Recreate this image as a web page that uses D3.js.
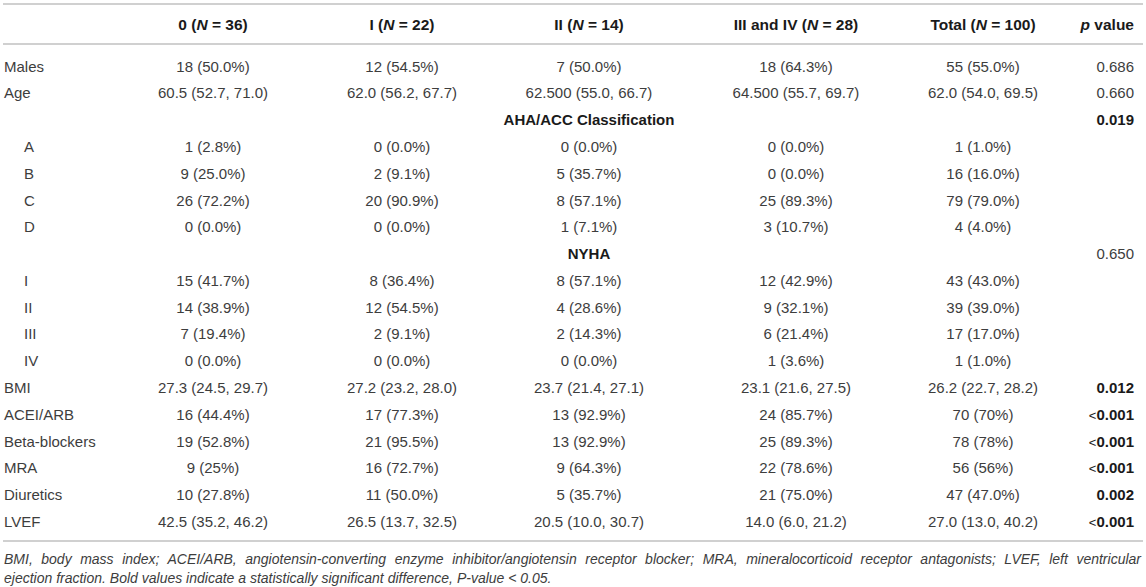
<!DOCTYPE html>
<html>
<head>
<meta charset="utf-8">
<script src="https://cdn.jsdelivr.net/npm/d3@7"></script>
<style>
  body { margin: 0; background: #fff; }
  svg { display: block; font-family: "Liberation Sans", Arial, sans-serif; }
</style>
</head>
<body>
<svg id="table" width="1146" height="587"></svg>
<script>
// column groups (Stage) and their N
const groups = ["0", "I", "II", "III and IV", "Total"];
const groupN = [36, 22, 14, 28, 100];

// row labels; "section" rows are the centred bold sub headings
const rowLabels = ["Males", "Age", "AHA/ACC Classification", "A", "B", "C", "D",
    "NYHA", "I", "II", "III", "IV", "BMI", "ACEI/ARB", "Beta-blockers", "MRA",
    "Diuretics", "LVEF"];
const rowKind = ["row", "row", "section", "sub", "sub", "sub", "sub",
    "section", "sub", "sub", "sub", "sub", "row", "row", "row", "row", "row", "row"];

const stage0 = ["18 (50.0%)", "60.5 (52.7, 71.0)", "", "1 (2.8%)", "9 (25.0%)", "26 (72.2%)", "0 (0.0%)",
    "", "15 (41.7%)", "14 (38.9%)", "7 (19.4%)", "0 (0.0%)", "27.3 (24.5, 29.7)", "16 (44.4%)",
    "19 (52.8%)", "9 (25%)", "10 (27.8%)", "42.5 (35.2, 46.2)"];
const stageI = ["12 (54.5%)", "62.0 (56.2, 67.7)", "", "0 (0.0%)", "2 (9.1%)", "20 (90.9%)", "0 (0.0%)",
    "", "8 (36.4%)", "12 (54.5%)", "2 (9.1%)", "0 (0.0%)", "27.2 (23.2, 28.0)", "17 (77.3%)",
    "21 (95.5%)", "16 (72.7%)", "11 (50.0%)", "26.5 (13.7, 32.5)"];
const stageII = ["7 (50.0%)", "62.500 (55.0, 66.7)", "", "0 (0.0%)", "5 (35.7%)", "8 (57.1%)", "1 (7.1%)",
    "", "8 (57.1%)", "4 (28.6%)", "2 (14.3%)", "0 (0.0%)", "23.7 (21.4, 27.1)", "13 (92.9%)",
    "13 (92.9%)", "9 (64.3%)", "5 (35.7%)", "20.5 (10.0, 30.7)"];
const stageIIIIV = ["18 (64.3%)", "64.500 (55.7, 69.7)", "", "0 (0.0%)", "0 (0.0%)", "25 (89.3%)", "3 (10.7%)",
    "", "12 (42.9%)", "9 (32.1%)", "6 (21.4%)", "1 (3.6%)", "23.1 (21.6, 27.5)", "24 (85.7%)",
    "25 (89.3%)", "22 (78.6%)", "21 (75.0%)", "14.0 (6.0, 21.2)"];
const total = ["55 (55.0%)", "62.0 (54.0, 69.5)", "", "1 (1.0%)", "16 (16.0%)", "79 (79.0%)", "4 (4.0%)",
    "", "43 (43.0%)", "39 (39.0%)", "17 (17.0%)", "1 (1.0%)", "26.2 (22.7, 28.2)", "70 (70%)",
    "78 (78%)", "56 (56%)", "47 (47.0%)", "27.0 (13.0, 40.2)"];

const pValues = ["0.686", "0.660", "0.019", "", "", "", "", "0.650", "", "", "", "",
    "0.012", "<0.001", "<0.001", "<0.001", "0.002", "<0.001"];
const pBold = [false, false, true, false, false, false, false, false, false, false, false, false,
    true, true, true, true, true, true];

const footnote = [
    "BMI, body mass index; ACEI/ARB, angiotensin-converting enzyme inhibitor/angiotensin receptor blocker; MRA, mineralocorticoid receptor antagonists; LVEF, left ventricular",
    "ejection fraction. Bold values indicate a statistically significant difference, P-value < 0.05."
];

const columns = [stage0, stageI, stageII, stageIIIIV, total];

const svg = d3.select("#table");
const left = 3, right = 1143;

const x = d3.scaleOrdinal()
    .domain(groups)
    .range([213, 402, 589, 796, 983]);
const pX = 1134;

const y = d3.scaleBand()
    .domain(d3.range(rowLabels.length))
    .range([53, 535]);

const textCol = "#3d3d3d";
const boldCol = "#1a1a1a";
const lineCol = "#c0c0c0";

// rules
svg.selectAll("line.rule")
    .data([4, 44, 541])
    .enter()
    .append("line")
    .attr("class", "rule")
    .attr("x1", left).attr("x2", right)
    .attr("y1", d => d).attr("y2", d => d)
    .attr("stroke", lineCol)
    .attr("stroke-width", 1.6);

// header
const head = svg.append("g").attr("font-weight", "bold").attr("font-size", 15.5).attr("fill", boldCol);
groups.forEach((g, i) => {
    const t = head.append("text")
        .attr("x", x(g)).attr("y", 25)
        .attr("dy", "0.35em")
        .attr("text-anchor", "middle");
    t.append("tspan").text(g + " (");
    t.append("tspan").attr("font-style", "italic").text("N");
    t.append("tspan").text(" = " + groupN[i] + ")");
});
const ph = head.append("text")
    .attr("x", pX).attr("y", 25).attr("dy", "0.35em")
    .attr("text-anchor", "end");
ph.append("tspan").attr("font-style", "italic").text("p");
ph.append("tspan").text(" value");

// body
const rowY = i => y(i) + y.bandwidth() / 2;
const body = svg.append("g").attr("font-size", 15).attr("fill", textCol);

body.selectAll("text.label")
    .data(rowLabels)
    .enter()
    .append("text")
    .attr("class", "label")
    .attr("x", (d, i) => rowKind[i] === "section" ? x("II") : (rowKind[i] === "sub" ? 24 : 4))
    .attr("y", (d, i) => rowY(i))
    .attr("dy", "0.35em")
    .attr("text-anchor", (d, i) => rowKind[i] === "section" ? "middle" : "start")
    .attr("font-weight", (d, i) => rowKind[i] === "section" ? "bold" : null)
    .attr("fill", (d, i) => rowKind[i] === "section" ? boldCol : textCol)
    .text(d => d);

columns.forEach((col, c) => {
    body.selectAll("text.c" + c)
        .data(col)
        .enter()
        .append("text")
        .attr("class", "c" + c)
        .attr("x", x(groups[c]))
        .attr("y", (d, i) => rowY(i))
        .attr("dy", "0.35em")
        .attr("text-anchor", "middle")
        .text(d => d);
});

const pText = body.selectAll("text.p")
    .data(pValues)
    .enter()
    .append("text")
    .attr("class", "p")
    .attr("x", pX)
    .attr("y", (d, i) => rowY(i))
    .attr("dy", "0.35em")
    .attr("text-anchor", "end")
    .attr("font-weight", (d, i) => pBold[i] ? "bold" : null)
    .attr("fill", (d, i) => pBold[i] ? boldCol : textCol);

pText.each(function (d) {
    const t = d3.select(this);
    if (d.startsWith("<")) {
        t.append("tspan").attr("font-weight", "normal").attr("font-size", 13).text("<");
        t.append("tspan").text(d.slice(1));
    } else {
        t.text(d);
    }
});

// footnote, first line justified
const foot = svg.append("g")
    .attr("font-size", 14)
    .attr("font-style", "italic")
    .attr("fill", textCol);

foot.selectAll("text")
    .data(footnote)
    .enter()
    .append("text")
    .attr("x", 4)
    .attr("y", (d, i) => 559 + i * 19.5)
    .attr("dy", "0.35em")
    .text(d => d)
    .each(function (d, i) {
        if (i === 0) {
            const w = this.getComputedTextLength();
            const gaps = d.split(" ").length - 1;
            const extra = (right - 2 - 4 - w) / gaps;
            d3.select(this).attr("word-spacing", extra);
        }
    });
</script>
</body>
</html>
